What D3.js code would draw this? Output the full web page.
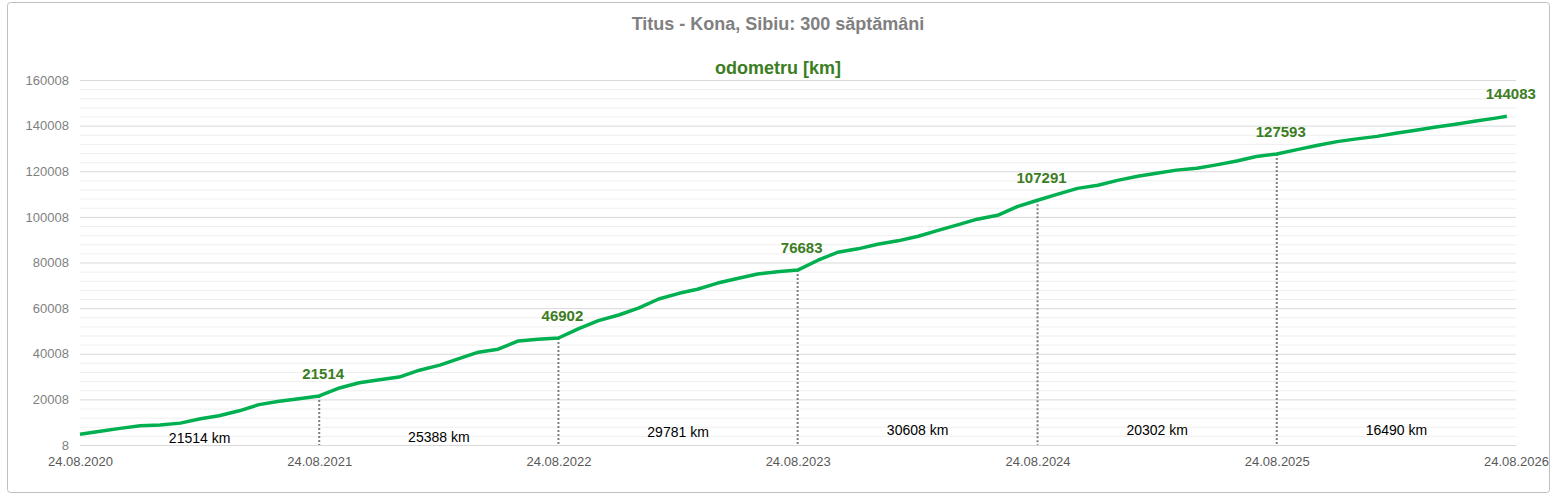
<!DOCTYPE html>
<html lang="ro">
<head>
<meta charset="utf-8"/>
<title>Titus - Kona</title>
<script src="https://cdn.jsdelivr.net/npm/d3@7"></script>
<style>
	body { margin:0; background:#fff; font-family:"Liberation Sans", Arial, sans-serif; }
</style>
</head>
<body>
<svg id="chart" width="1557" height="501"></svg>
<script>
// monthly readings of the odometer (month offset from 24.08.2020)
var months = [0,1,2,3,4,5,6,7,8,9,10,11,12,13,14,15,16,17,18,19,20,21,22,23,24,25,26,27,28,29,30,31,32,33,34,35,36,37,38,39,40,41,42,43,44,45,46,47,48,49,50,51,52,53,54,55,56,57,58,59,60,61,62,63,64,65,66,67,68,69,70,71];
var km = [4700,6000,7300,8400,8800,9600,11500,12800,15000,17700,19200,20300,21514,25000,27300,28600,29800,32800,35000,37800,40700,42000,45600,46400,46902,51000,54500,57000,60000,64000,66500,68300,71000,73000,75000,76000,76683,81000,84500,86000,88000,89500,91500,94000,96500,99000,100700,104500,107291,110000,112500,113900,116000,117800,119200,120500,121300,122800,124500,126500,127593,129500,131300,133000,134200,135300,136800,138000,139400,140600,142000,143300];
var lastDate = "2026-08-10", lastKm = 144083;
var years = ["2020-08-24","2021-08-24","2022-08-24","2023-08-24","2024-08-24","2025-08-24","2026-08-24"];
var marks = [21514,46902,76683,107291,127593];
var yearKm = ["21514 km","25388 km","29781 km","30608 km","20302 km","16490 km"];
var yTicks = [8,20008,40008,60008,80008,100008,120008,140008,160008];

var parse = d3.timeParse("%Y-%m-%d");
var start = parse(years[0]);
var data = months.map(function(m,i){ return {d: d3.timeMonth.offset(start,m), v: km[i]}; });
data.push({d: parse(lastDate), v: lastKm});
var yd = years.map(parse);

var svg = d3.select("#chart");
svg.append("rect").attr("x",7.5).attr("y",2.5).attr("width",1542).attr("height",490)
	.attr("rx",3).attr("fill","#fff").attr("stroke","#bfbfbf");

var x = d3.scaleTime().domain([yd[0], yd[6]]).range([80,1516]);
var y = d3.scaleLinear().domain([8,160008]).range([445,80]);

// minor grid
var g = svg.append("g");
d3.range(8,160009,4000).forEach(function(v){
	var major = (v-8)%20000===0;
	g.append("line").attr("x1",80).attr("x2",1516).attr("y1",y(v)+0.5).attr("y2",y(v)+0.5)
		.attr("stroke", major ? "#d9d9d9" : "#efefef").attr("stroke-width",1);
});

var ya = svg.append("g").attr("transform","translate(72,0)")
	.call(d3.axisLeft(y).tickValues(yTicks).tickSize(0).tickFormat(d3.format("d")));
ya.select(".domain").remove();
ya.selectAll("text").attr("fill","#7f7f7f").style("font-size","13px").style("font-family","Liberation Sans, Arial");

var xa = svg.append("g").attr("transform","translate(0,445)")
	.call(d3.axisBottom(x).tickValues(yd).tickSize(0).tickPadding(12).tickFormat(d3.timeFormat("%d.%m.%Y")));
xa.select(".domain").attr("stroke","#d9d9d9");
xa.selectAll("text").attr("fill","#595959").style("font-size","13px").style("font-family","Liberation Sans, Arial");

// dotted year markers
yd.slice(1,6).forEach(function(d,i){
	svg.append("line").attr("x1",x(d)).attr("x2",x(d)).attr("y1",y(marks[i])).attr("y2",445)
		.attr("stroke","#7f7f7f").attr("stroke-width",2).attr("stroke-dasharray","2,2");
});

svg.append("path").datum(data)
	.attr("d", d3.line().x(function(d){return x(d.d);}).y(function(d){return y(d.v);}))
	.attr("fill","none").attr("stroke","#00b050").attr("stroke-width",3.5).attr("stroke-linejoin","round");

// value labels
var labs = marks.map(function(v,i){ return {d: yd[i+1], v: v}; });
labs.push({d: parse(lastDate), v: lastKm});
svg.selectAll(".vl").data(labs).enter().append("text")
	.attr("x",function(d){return x(d.d)+4;}).attr("y",function(d){return y(d.v)-17;})
	.attr("text-anchor","middle").attr("fill","#3b7d23").style("font-weight","bold").style("font-size","15px")
	.text(function(d){return d.v;});

// per-year distances
var ly = [443,442,437,435,435,435];
yearKm.forEach(function(t,i){
	svg.append("text").attr("x",(x(yd[i])+x(yd[i+1]))/2).attr("y",ly[i])
		.attr("text-anchor","middle").attr("fill","#000").style("font-size","14px").text(t);
});

svg.append("text").attr("x",778).attr("y",30).attr("text-anchor","middle").attr("fill","#808080")
	.style("font-weight","bold").style("font-size","18px").text("Titus - Kona, Sibiu: 300 săptămâni");
svg.append("text").attr("x",778).attr("y",74).attr("text-anchor","middle").attr("fill","#3b7d23")
	.style("font-weight","bold").style("font-size","18px").text("odometru [km]");
</script>
</body>
</html>
